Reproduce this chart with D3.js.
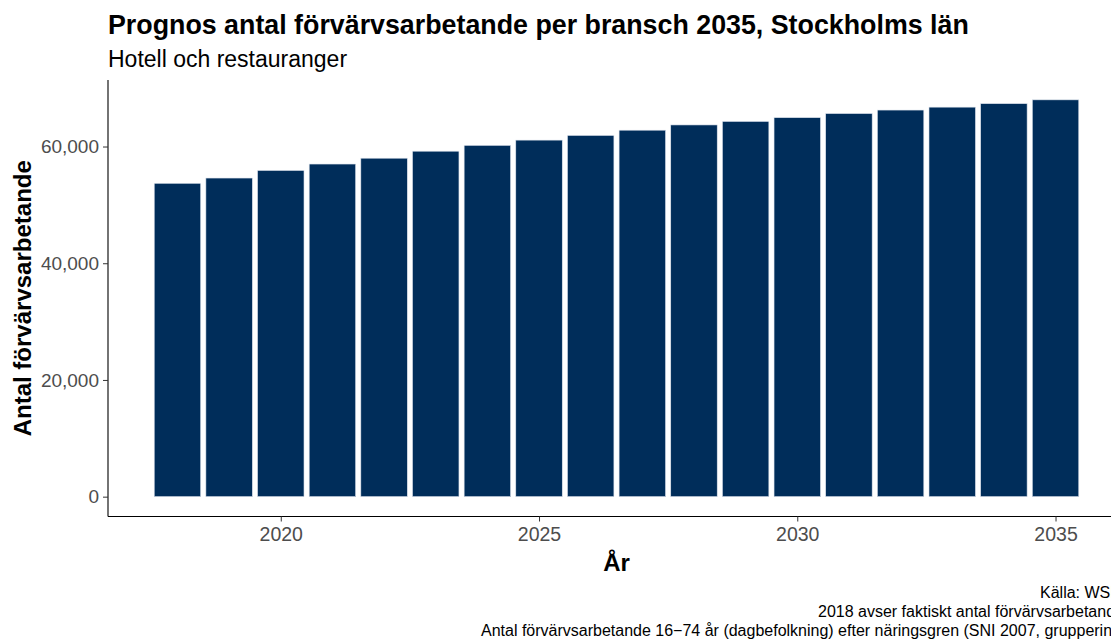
<!DOCTYPE html>
<html>
<head>
<meta charset="utf-8">
<script src="https://cdn.jsdelivr.net/npm/d3@7"></script>
<style>
  html, body { margin: 0; padding: 0; background: #fff; }
  svg { display: block; font-family: "Liberation Sans", Arial, sans-serif; }
</style>
</head>
<body>
<svg id="chart" width="1111" height="639"></svg>
<script>
const years = [2018, 2019, 2020, 2021, 2022, 2023, 2024, 2025, 2026, 2027, 2028, 2029, 2030, 2031, 2032, 2033, 2034, 2035];
const workers = [53700, 54600, 55900, 57000, 58000, 59200, 60200, 61100, 61900, 62800, 63700, 64300, 64950, 65650, 66250, 66750, 67350, 68000];
const xTicks = [2020, 2025, 2030, 2035];
const yTicks = [0, 20000, 40000, 60000];
const titleText = "Prognos antal förvärvsarbetande per bransch 2035, Stockholms län";
const subtitleText = "Hotell och restauranger";
const xLabel = "År";
const yLabel = "Antal förvärvsarbetande";
const captionLines = [
  "Källa: WSP",
  "2018 avser faktiskt antal förvärvsarbetande",
  "Antal förvärvsarbetande 16\u221274 år (dagbefolkning) efter näringsgren (SNI 2007, gruppering enligt bransch)"
];

const svg = d3.select("#chart");
const panel = { left: 108, right: 1125, top: 80, bottom: 516.5 };

const barW = 0.9;
const xMin = years[0] - barW / 2, xMax = years[years.length - 1] + barW / 2;
const xPad = (xMax - xMin) * 0.05;
const x = d3.scaleLinear().domain([xMin - xPad, xMax + xPad]).range([panel.left, panel.right]);
const yMax = d3.max(workers);
const y = d3.scaleLinear().domain([-yMax * 0.05, yMax * 1.05]).range([panel.bottom, panel.top]);

const data = years.map((yr, i) => ({ year: yr, value: workers[i] }));

// bars
svg.append("g").selectAll("rect").data(data).join("rect")
  .attr("x", d => x(d.year - barW / 2))
  .attr("width", d => x(d.year + barW / 2) - x(d.year - barW / 2))
  .attr("y", d => y(d.value))
  .attr("height", d => y(0) - y(d.value))
  .attr("fill", "#002D5A")
  .attr("stroke", "#dfe5ee")
  .attr("stroke-width", 0.6);

const tickFont = "19px";

// y axis
const yAxis = svg.append("g").attr("transform", `translate(${panel.left},0)`)
  .call(d3.axisLeft(y).tickValues(yTicks).tickSize(5).tickPadding(4).tickFormat(d3.format(",")));
yAxis.select(".domain").attr("d", `M0,${panel.top}V${panel.bottom}`).attr("stroke", "#000").attr("stroke-width", 1.1);
yAxis.selectAll(".tick line").attr("stroke", "#333");
yAxis.selectAll(".tick text").attr("fill", "#4d4d4d").style("font-size", tickFont)
  .style("font-family", "'Liberation Sans', Arial, sans-serif");

// x axis
const xAxis = svg.append("g").attr("transform", `translate(0,${panel.bottom})`)
  .call(d3.axisBottom(x).tickValues(xTicks).tickSize(5).tickPadding(6).tickFormat(d3.format("d")));
xAxis.select(".domain").attr("d", `M${panel.left},0H${panel.right}`).attr("stroke", "#000").attr("stroke-width", 1.1);
xAxis.selectAll(".tick line").attr("stroke", "#333");
xAxis.selectAll(".tick text").attr("fill", "#4d4d4d").style("font-size", "19.5px")
  .style("font-family", "'Liberation Sans', Arial, sans-serif");

// titles
svg.append("text").attr("x", 108).attr("y", 34)
  .style("font-size", "26.8px").style("font-weight", "bold").attr("fill", "#000").text(titleText);
svg.append("text").attr("x", 108).attr("y", 67)
  .style("font-size", "23px").attr("fill", "#000").text(subtitleText);

// axis titles
svg.append("text").attr("x", (panel.left + panel.right) / 2).attr("y", 571)
  .attr("text-anchor", "middle").style("font-size", "24px").style("font-weight", "bold").text(xLabel);
svg.append("text").attr("transform", `translate(31,${(panel.top + panel.bottom) / 2}) rotate(-90)`)
  .attr("text-anchor", "middle").style("font-size", "24px").style("font-weight", "bold").text(yLabel);

// caption (runs past the right edge, as in the reference)
const capX = [1040, 818, 481];
const capY = [598, 617, 636];
captionLines.forEach((t, i) => {
  svg.append("text").attr("x", capX[i]).attr("y", capY[i])
    .style("font-size", "16px").attr("fill", "#000").text(t);
});
</script>
</body>
</html>
